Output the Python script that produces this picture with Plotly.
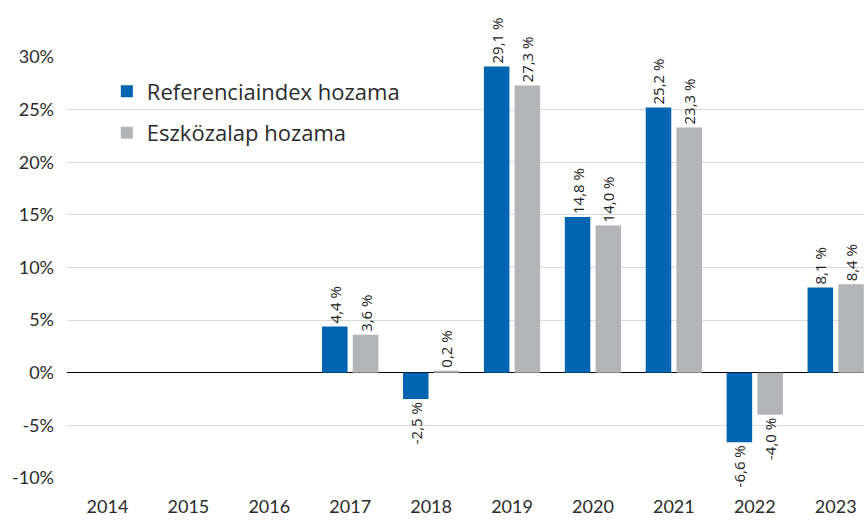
import plotly.graph_objects as go

years = ["2014", "2015", "2016", "2017", "2018", "2019", "2020", "2021", "2022", "2023"]
ref_values = [None, None, None, 4.4, -2.5, 29.1, 14.8, 25.2, -6.6, 8.1]
fund_values = [None, None, None, 3.6, 0.2, 27.3, 14.0, 23.3, -4.0, 8.4]
ref_name = "Referenciaindex hozama"
fund_name = "Eszközalap hozama"
y_ticks = [-10, -5, 0, 5, 10, 15, 20, 25, 30]

def fmt(v):
    return "" if v is None else f"{v:.1f}".replace(".", ",") + " %"

BLUE = "#0064b1"
GRAY = "#b2b4b7"
label_font = dict(family="Open Sans, DejaVu Sans, sans-serif", size=15, color="#222222")

fig = go.Figure()
for grp, name, vals, col in [("a", ref_name, ref_values, BLUE), ("b", fund_name, fund_values, GRAY)]:
    fig.add_trace(go.Bar(
        x=years, y=vals, name=name, legendgroup=grp,
        marker=dict(color=col, line=dict(width=0)),
        text=[fmt(v) for v in vals], textposition="outside", textangle=-90,
        textfont=label_font, cliponaxis=False, constraintext="none",
    ))

fig.update_layout(
    width=864, height=521,
    margin=dict(l=67, r=0, t=57, b=43),
    plot_bgcolor="white", paper_bgcolor="white",
    barmode="group", bargap=0.24, bargroupgap=0.17,
    font=dict(family="Lato, Open Sans, sans-serif", size=18, color="#2b2b2b"),
    legend=dict(x=0.05, y=0.968, xanchor="left", yanchor="top",
                font=dict(family="Open Sans, sans-serif", size=22, color="#2b2b2b"),
                bgcolor="rgba(0,0,0,0)", traceorder="grouped",
                tracegroupgap=10, itemwidth=30),
    showlegend=True,
)
fig.update_xaxes(type="category", range=[-0.5, 9.35], showgrid=False, showline=False,
                 ticks="", tickfont=dict(size=18), ticklabelstandoff=16)
fig.update_yaxes(range=[-10, 30], tickvals=y_ticks, ticktext=[f"{t}%" for t in y_ticks],
                 showgrid=True, gridcolor="#d9d9d9", gridwidth=1,
                 zeroline=True, zerolinecolor="#000000", zerolinewidth=1,
                 ticks="", ticklabelstandoff=12, tickfont=dict(size=18))

fig.write_html(
    "out.html",
    config={"displayModeBar": False},
    post_script="document.body.style.margin='0';document.body.style.overflow='hidden';",
)
